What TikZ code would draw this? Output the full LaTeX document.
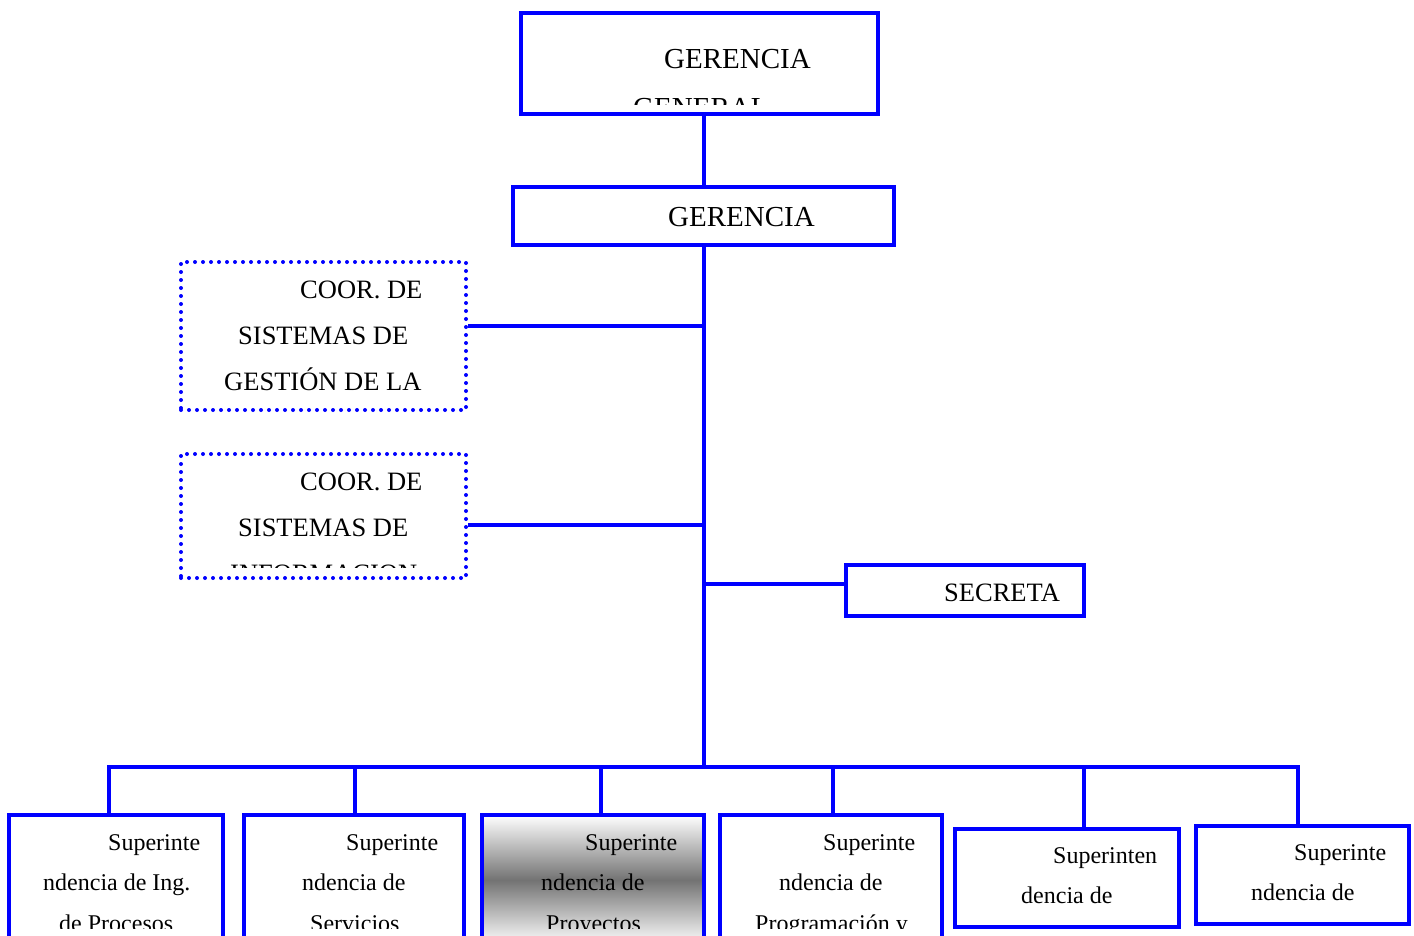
\documentclass[tikz,border=0pt]{standalone}
\usepackage{fontspec}
\setmainfont{Liberation Serif}
\definecolor{orgblue}{RGB}{0,0,255}
\begin{document}
\begin{tikzpicture}[x=1pt,y=-1pt,
  box/.style={draw=orgblue, line width=3.6pt, rectangle, inner sep=0pt},
  dotbox/.style={draw=orgblue, line width=4pt, dash pattern=on 0pt off 8pt,
    line cap=round, rectangle, inner sep=0pt},
  link/.style={draw=orgblue, line width=3.8pt},
  big/.style={font=\fontsize{29}{35}\selectfont, anchor=base west, inner sep=0pt},
  mid/.style={font=\fontsize{26.5}{32}\selectfont, anchor=base west, inner sep=0pt},
  small/.style={font=\fontsize{24}{29}\selectfont, anchor=base west, inner sep=0pt}]
\useasboundingbox (0,0) rectangle (1414,935);

% boxes
\node[box, minimum width=357pt, minimum height=101pt] (gg) at (699.5,63.5) {};
\node[box, minimum width=381pt, minimum height=58pt] (g) at (703.5,216) {};
\node[dotbox, minimum width=285pt, minimum height=148pt] (c1) at (323.5,336) {};
\node[dotbox, minimum width=285pt, minimum height=124pt] (c2) at (323.5,516) {};
\node[box, minimum width=238pt, minimum height=51pt] (sec) at (965,590.5) {};
\node[box, minimum width=214pt, minimum height=130pt] (b1) at (116,880) {};
\node[box, minimum width=220pt, minimum height=130pt] (b2) at (354,880) {};
\node[box, minimum width=222pt, minimum height=130pt,
  top color=white, bottom color=white, middle color=black!55] (b3) at (593,880) {};
\node[box, minimum width=222pt, minimum height=130pt] (b4) at (831,880) {};
\node[box, minimum width=224pt, minimum height=98pt] (b5) at (1067,878) {};
\node[box, minimum width=213pt, minimum height=98pt] (b6) at (1302.5,875) {};

% junction points
\coordinate (top) at (704,114);
\coordinate (bus) at (704,767);
\coordinate (j1) at (704,326);
\coordinate (j2) at (704,525);
\coordinate (j3) at (704,584);
\coordinate (d1) at (109,767);
\coordinate (d2) at (355,767);
\coordinate (d3) at (601,767);
\coordinate (d4) at (833,767);
\coordinate (d5) at (1084,767);
\coordinate (d6) at (1298,767);

% connectors
\draw[link] (top |- gg.south) -- (top |- g.north);
\draw[link] (bus |- g.south) -- (bus);
\draw[link] (j1) -- (j1 -| c1.east);
\draw[link] (j2) -- (j2 -| c2.east);
\draw[link] (j3) -- (j3 -| sec.west);
\draw[link, line cap=rect] (d1) -- (d6);
\draw[link] (d1) -- (d1 |- b1.north);
\draw[link] (d2) -- (d2 |- b2.north);
\draw[link] (d3) -- (d3 |- b3.north);
\draw[link] (d4) -- (d4 |- b4.north);
\draw[link] (d5) -- (d5 |- b5.north);
\draw[link] (d6) -- (d6 |- b6.north);

% labels
\begin{scope}
  \clip (522,14) rectangle (877,104);
  \node[big] (ggt1) at (664,68) {GERENCIA};
  \node[big] (ggt2) at (633,117) {GENERAL};
\end{scope}
\node[big] (gt) at (668,226) {GERENCIA};

\node[mid] (c1t1) at (300,298) {COOR. DE};
\node[mid] (c1t2) at (238,344) {SISTEMAS DE};
\node[mid] (c1t3) at (224,390) {GESTIÓN DE LA};

\begin{scope}
  \clip (183,456) rectangle (464,567);
  \node[mid] (c2t1) at (300,490) {COOR. DE};
  \node[mid] (c2t2) at (238,536) {SISTEMAS DE};
  \node[mid] (c2t3) at (230,582) {INFORMACION};
\end{scope}

\node[mid] (sect) at (944,601) {SECRETA};

\begin{scope}
  \clip (0,815) rectangle (1414,928);
  \node[small] (b1t1) at (108,850) {Superinte};
  \node[small] (b1t2) at (43,890) {ndencia de Ing.};
  \node[small] (b1t3) at (59,931) {de Procesos};
  \node[small] (b2t1) at (346,850) {Superinte};
  \node[small] (b2t2) at (302,890) {ndencia de};
  \node[small] (b2t3) at (310,931) {Servicios};
  \node[small] (b3t1) at (585,850) {Superinte};
  \node[small] (b3t2) at (541,890) {ndencia de};
  \node[small] (b3t3) at (546,931) {Proyectos};
  \node[small] (b4t1) at (823,850) {Superinte};
  \node[small] (b4t2) at (779,890) {ndencia de};
  \node[small] (b4t3) at (755,931) {Programación y};
\end{scope}
\node[small] (b5t1) at (1053,863) {Superinten};
\node[small] (b5t2) at (1021,903) {dencia de};
\node[small] (b6t1) at (1294,860) {Superinte};
\node[small] (b6t2) at (1251,900) {ndencia de};
\end{tikzpicture}
\end{document}
